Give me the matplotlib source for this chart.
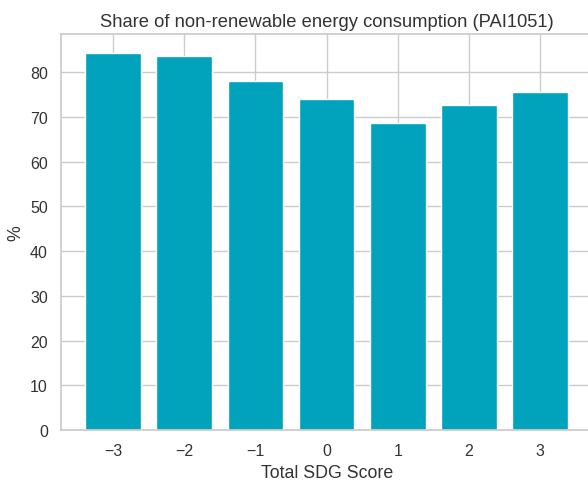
import matplotlib
matplotlib.use("Agg")
import matplotlib.pyplot as plt
import seaborn as sns

scores = [-3, -2, -1, 0, 1, 2, 3]
share_pct = [84.3, 83.7, 78.1, 73.9, 68.6, 72.7, 75.6]

sns.set_theme(style="whitegrid")
plt.rcParams['font.family'] = ['Liberation Sans', 'DejaVu Sans']

fig = plt.figure(figsize=(5.88, 4.81), dpi=100)
ax = fig.add_axes([0.104, 0.104, 0.903, 0.823])
ax.bar(scores, share_pct, width=0.78, color="#00a2bc")
ax.set_xticks(scores)
ax.set_xticklabels([str(s).replace('-', '\u2212') for s in scores])
ax.set_title("Share of non-renewable energy consumption (PAI1051)", fontsize=13.2, color="#333333")
ax.set_xlabel("Total SDG Score", fontsize=12.8, color="#333333")
ax.set_ylabel("%", fontsize=12.8, color="#333333")
ax.tick_params(labelsize=11.5, labelcolor="#333333")
fig.savefig("out.png", dpi=100)
